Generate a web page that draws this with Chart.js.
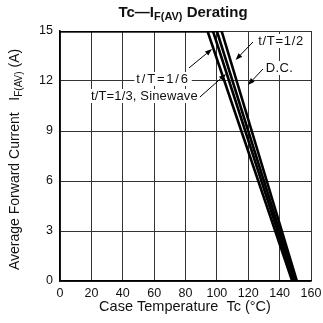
<!DOCTYPE html>
<html><head><meta charset="utf-8">
<script src="https://cdn.jsdelivr.net/npm/chart.js@4"></script>
<style>html,body{margin:0;padding:0;background:#fff}#w{width:323px;height:323px}</style>
</head><body><div id="w"><canvas id="c" width="323" height="323"></canvas></div>
<script>
// ---- data ----
const seriesNames = ['t/T=1/6', 't/T=1/3, Sinewave', 't/T=1/2', 'D.C.'];
const caseTemp_1_6  = [0, 94, 148];
const current_1_6   = [15, 15, 0];
const caseTemp_1_3  = [0, 97.5, 149];
const current_1_3   = [15, 15, 0];
const caseTemp_1_2  = [0, 100, 150];
const current_1_2   = [15, 15, 0];
const caseTemp_DC   = [0, 103, 151];
const current_DC    = [15, 15, 0];
const xTickValues = [0, 20, 40, 60, 80, 100, 120, 140, 160];
const yTickValues = [0, 3, 6, 9, 12, 15];

const FONT = '"Liberation Sans", Arial, sans-serif';
const allT = [caseTemp_1_6, caseTemp_1_3, caseTemp_1_2, caseTemp_DC];
const allI = [current_1_6, current_1_3, current_1_2, current_DC];

const datasets = seriesNames.map((n, k) => ({
  label: n,
  data: allT[k].map((t, i) => ({x: t, y: allI[k][i]})),
  borderColor: '#000', backgroundColor: '#000', borderWidth: 2.6,
  pointRadius: 0, showLine: true, fill: false, tension: 0
}));

// annotation labels (data coords of text centre, arrow tail, arrow head)
const annotations = [
  {text: 't/T=1/2', sp: 0.7, at: [140.9, 14.4], from: [123.0, 14.34], to: [111.9, 13.26]},
  {text: 'D.C.', sp: 0.3, at: [139.9, 12.78], from: [129.4, 12.72], to: [119.8, 11.76]},
  {text: 't/T=1/6', sp: 1.8, at: [65.7, 12.12], from: [82.2, 12.78], to: [96.9, 13.92]},
  {text: 't/T=1/3, Sinewave', sp: 0.15, at: [53.8, 11.1], from: [89.2, 11.04], to: [105.8, 12.42]}
];

function drawParts(ctx, parts, x, y) {
  let cx = x;
  parts.forEach(p => {
    ctx.font = p[1];
    ctx.fillText(p[0], cx, y + (p[2] || 0));
    cx += ctx.measureText(p[0]).width;
  });
  return cx - x;
}
function partsWidth(ctx, parts) {
  let w = 0;
  parts.forEach(p => { ctx.font = p[1]; w += ctx.measureText(p[0]).width; });
  return w;
}

const annotPlugin = {
  id: 'annot',
  afterDatasetsDraw(chart) {
    const ctx = chart.ctx, xs = chart.scales.x, ys = chart.scales.y;
    ctx.save();
    ctx.font = '13px ' + FONT;
    ctx.textBaseline = 'middle';
    annotations.forEach(a => {
      ctx.letterSpacing = a.sp + 'px';
      const w = ctx.measureText(a.text).width;
      const cx = xs.getPixelForValue(a.at[0]), cy = ys.getPixelForValue(a.at[1]);
      ctx.fillStyle = '#fff';
      ctx.fillRect(cx - w / 2 - 2, cy - 7, w + 4, 14);
      ctx.fillStyle = '#111';
      ctx.textAlign = 'left';
      ctx.fillText(a.text, cx - w / 2, cy + 0.5);
      const x1 = xs.getPixelForValue(a.from[0]), y1 = ys.getPixelForValue(a.from[1]);
      const x2 = xs.getPixelForValue(a.to[0]), y2 = ys.getPixelForValue(a.to[1]);
      const ang = Math.atan2(y2 - y1, x2 - x1);
      const L = 7, W = 2.6;
      ctx.strokeStyle = '#000'; ctx.lineWidth = 1;
      ctx.beginPath(); ctx.moveTo(x1, y1);
      ctx.lineTo(x2 - Math.cos(ang) * L, y2 - Math.sin(ang) * L); ctx.stroke();
      ctx.fillStyle = '#000';
      ctx.beginPath();
      ctx.moveTo(x2, y2);
      ctx.lineTo(x2 - Math.cos(ang) * L - Math.sin(ang) * W, y2 - Math.sin(ang) * L + Math.cos(ang) * W);
      ctx.lineTo(x2 - Math.cos(ang) * L + Math.sin(ang) * W, y2 - Math.sin(ang) * L - Math.cos(ang) * W);
      ctx.closePath(); ctx.fill();
    });
    ctx.letterSpacing = '0px';
    ctx.restore();
  },
  afterDraw(chart) {
    const ctx = chart.ctx;
    ctx.save();
    ctx.fillStyle = '#111';
    ctx.textBaseline = 'alphabetic';
    ctx.textAlign = 'left';
    const tParts = [['Tc\u2014I', 'bold 15px ' + FONT, 0], ['F(AV)', 'bold 11px ' + FONT, 3], [' Derating', 'bold 15px ' + FONT, 0]];
    const tw = partsWidth(ctx, tParts);
    drawParts(ctx, tParts, 183 - tw / 2, 17);
    ctx.font = '14.5px ' + FONT;
    ctx.textAlign = 'center';
    ctx.fillText('Case Temperature  Tc (\u00B0C)', 185, 311);
    ctx.textAlign = 'left';
    ctx.translate(19, 270);
    ctx.rotate(-Math.PI / 2);
    const yParts = [['Average Forward Current   I', '14px ' + FONT, 0], ['F(AV)', '10px ' + FONT, 3], [' (A)', '14px ' + FONT, 0]];
    drawParts(ctx, yParts, 0, 0);
    ctx.restore();
  }
};

const tickFont = {size: 12.5, family: FONT};
new Chart(document.getElementById('c'), {
  type: 'scatter',
  data: {datasets},
  options: {
    responsive: false, animation: false,
    layout: {padding: {left: 0, top: 31, right: 12, bottom: 0}},
    plugins: {legend: {display: false}, tooltip: {enabled: false}, title: {display: false}},
    scales: {
      x: {
        type: 'linear', min: 0, max: 160,
        afterBuildTicks(s) { s.ticks = xTickValues.map(v => ({value: v})); },
        ticks: {color: '#111', font: tickFont, padding: 5, maxRotation: 0, autoSkip: false},
        grid: {color: '#333', lineWidth: 1, drawTicks: false},
        border: {color: '#000', width: 1.5},
        afterFit(s) { s.height = 42; s.paddingLeft = 0; s.paddingRight = 0; }
      },
      y: {
        type: 'linear', min: 0, max: 15,
        afterBuildTicks(s) { s.ticks = yTickValues.map(v => ({value: v})); },
        ticks: {color: '#111', font: tickFont, padding: 7, autoSkip: false},
        grid: {color: '#333', lineWidth: 1, drawTicks: false},
        border: {color: '#000', width: 1.5},
        afterFit(s) { s.width = 60; s.paddingTop = 0; s.paddingBottom = 0; }
      }
    }
  },
  plugins: [annotPlugin]
});
</script>
</body></html>
